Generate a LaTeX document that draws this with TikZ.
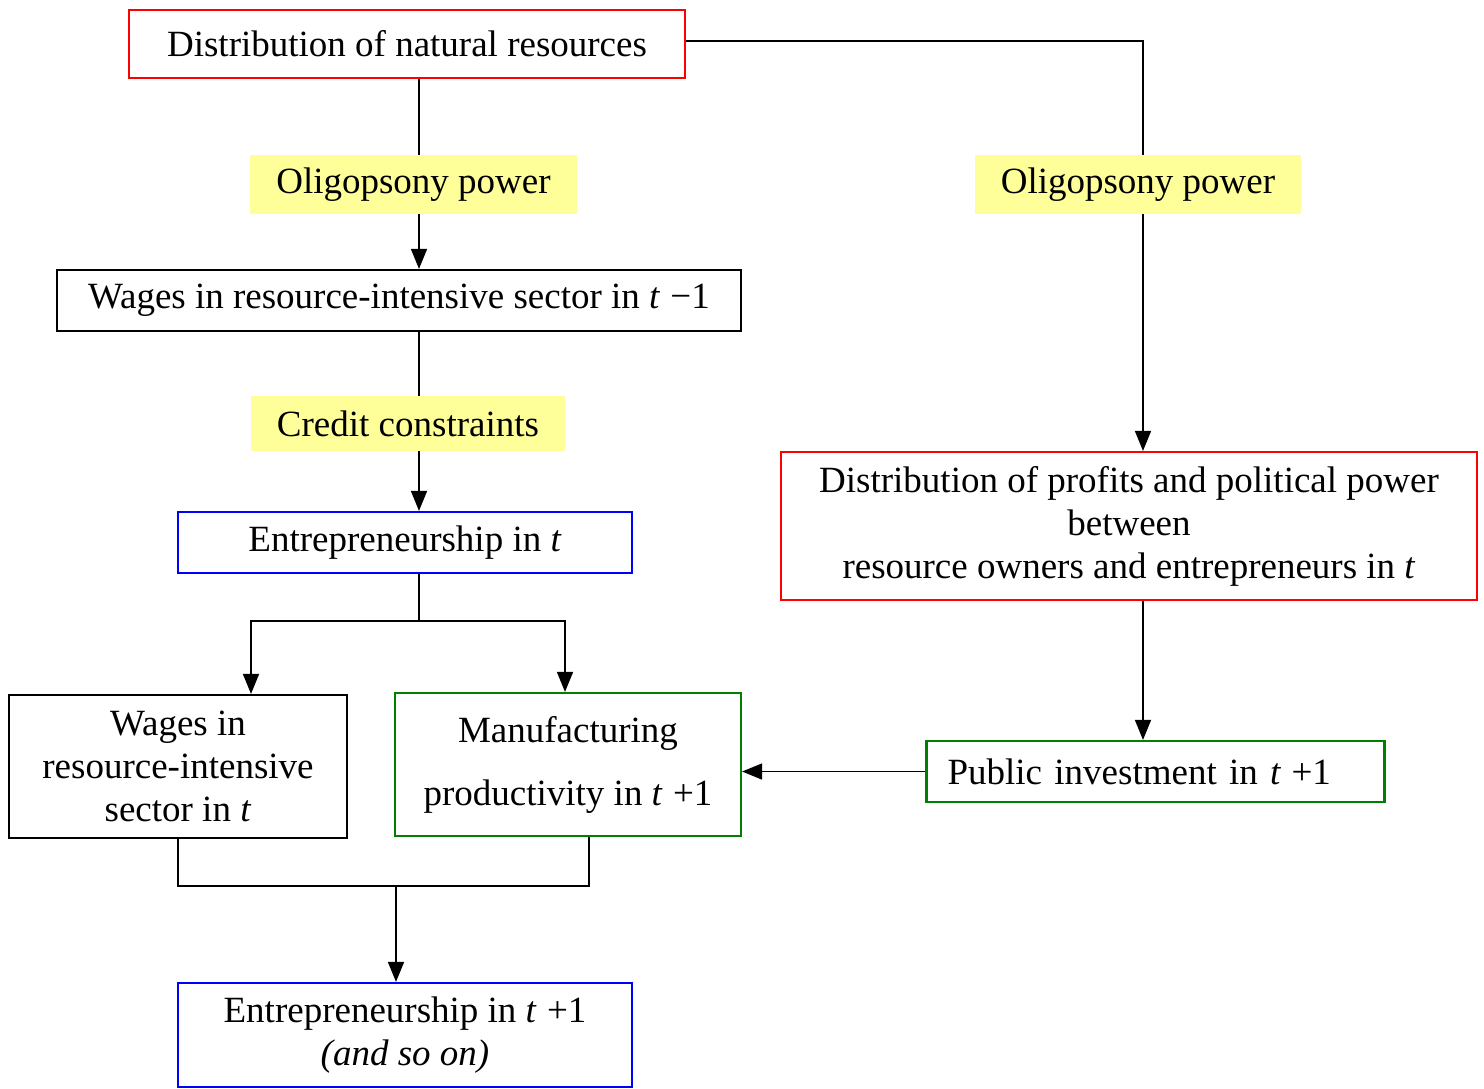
\documentclass[tikz,border=0pt]{standalone}
\usepackage{fontspec}
\setmainfont{Liberation Serif}
\usetikzlibrary{arrows.meta}
\definecolor{hlyellow}{RGB}{255,255,153}
\definecolor{boxgreen}{RGB}{0,128,0}

\begin{document}
\begin{tikzpicture}[x=0.5pt,y=-0.5pt,>={Triangle[length=10pt,width=8pt]},
    every node/.style={font=\fontsize{18.5}{21.5}\selectfont,align=center,inner sep=0pt},
    box/.style={draw,line width=1.1pt},
    redbox/.style={box,draw=red},
    bluebox/.style={box,draw=blue},
    greenbox/.style={box,draw=boxgreen},
    hl/.style={fill=hlyellow},
    link/.style={line width=0.8pt}]
    \useasboundingbox (0,0) rectangle (1484,1088);

    \node[redbox,minimum width=278pt,minimum height=34pt] (natres) at (407,44) {Distribution of natural resources};
    \node[box,minimum width=342pt,minimum height=30.5pt] (wages0) at (399,300.5) {Wages in resource-intensive sector in \textit{t}\;−1};
    \node[bluebox,minimum width=227pt,minimum height=30.5pt] (entr) at (405,542.5) {Entrepreneurship in \textit{t}};
    \node[box,minimum width=169pt,minimum height=71.5pt] (wagest) at (178,766.5) {Wages in\\resource-intensive\\sector in \textit{t}};
    \node[greenbox,minimum width=173pt,minimum height=71.5pt] (manuf) at (568,764.5) {Manufacturing\\[10pt]productivity in \textit{t}\;+1};
    \node[bluebox,minimum width=227pt,minimum height=52pt] (entr1) at (405,1035) {Entrepreneurship in \textit{t}\;+1\\\textit{(and so on)}};
    \node[redbox,minimum width=348pt,minimum height=74pt] (profit) at (1129,526) {Distribution of profits and political power\\between\\resource owners and entrepreneurs in \textit{t}};
    \node[greenbox,text width=208pt,inner xsep=10.5pt,align=left,minimum height=30.5pt] (pubinv) at (1155.5,771.5) {Public investment in \textit{t}\;+1};

    \coordinate (split) at (419,621);
    \coordinate (join) at (396,886);

    \draw[link,->] ([xshift=6pt]natres.south) -- ([xshift=6pt]natres.south |- wages0.north);
    \draw[link,->] ([xshift=10pt]wages0.south) -- ([xshift=10pt]wages0.south |- entr.north);
    \draw[link] ([xshift=7pt]entr.south) -- (split);
    \draw[link,->] (split) -| ([xshift=36.5pt]wagest.north);
    \draw[link,->] (split) -| ([xshift=-1.5pt]manuf.north);
    \draw[link] (wagest.south) |- (join) -| ([xshift=10.5pt]manuf.south);
    \draw[link,->] (join) -- (join |- entr1.north);
    \draw[link,->] ([yshift=1.5pt]natres.east) -| ([xshift=7pt]profit.north);
    \draw[link,->] ([xshift=7pt]profit.south) -- ([xshift=7pt]profit.south |- pubinv.north);
    \draw[link,->] (pubinv.west) -- (pubinv.west -| manuf.east);

    \node[hl,minimum width=163.5pt,minimum height=29.5pt] (olig1) at (413.5,184.5) {Oligopsony power};
    \node[hl,minimum width=163pt,minimum height=29.5pt] (olig2) at (1138,184.5) {Oligopsony power};
    \node[hl,minimum width=157pt,minimum height=27.5pt] (credit) at (408,423.5) {Credit constraints};
\end{tikzpicture}
\end{document}
